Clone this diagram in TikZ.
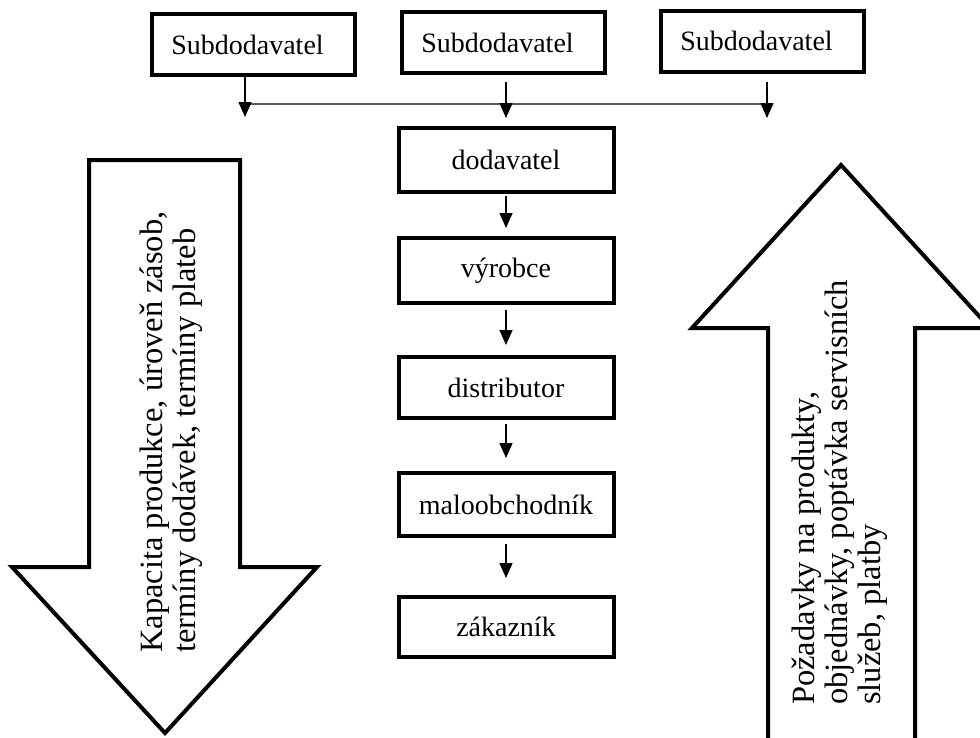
\documentclass[tikz,border=0pt]{standalone}
\usepackage{fontspec}
\setmainfont{Liberation Serif}
\usetikzlibrary{arrows.meta}
\begin{document}
\begin{tikzpicture}[x=1pt,y=-1pt,
  box/.style={draw, line width=4pt, minimum width=215pt, minimum height=63pt, inner sep=0pt, font=\fontsize{28}{32}\selectfont},
  topbox/.style={box, minimum width=203pt, minimum height=61pt},
  link/.style={line width=1.5pt, -{Triangle[length=15pt,width=13pt]}},
  hline/.style={line width=1.8pt, black!65},
  bigarrow/.style={line width=4pt, line join=miter},
  arrowtext/.style={rotate=90, anchor=west, inner sep=0pt, align=left, font=\fontsize{32.5}{33}\selectfont}]
\useasboundingbox (0,0) rectangle (980,737);
\clip (0,0) rectangle (980,737);

% top row
\node[topbox] (b1) at (253.5,44.5) {Subdodavatel\hspace*{12pt}};
\node[topbox] (b2) at (503.5,42.5) {Subdodavatel\hspace*{12pt}};
\node[topbox] (b3) at (762.5,41) {Subdodavatel\hspace*{12pt}};

\coordinate (t1) at (245,117);
\coordinate (t2) at (506,118);
\coordinate (t3) at (767,118);
\coordinate (h1) at (245,104);
\coordinate (h3) at (767,104);

\draw[hline] (h1) -- (h3);
\draw[link] (t1 |- b1.south) -- (t1);
\draw[link, shorten <=7pt] (t2 |- b2.south) -- (t2);
\draw[link, shorten <=8pt] (t3 |- b3.south) -- (t3);

% middle chain
\node[box, minimum height=64pt] (dod) at (506,160) {dodavatel};
\node[box, minimum height=65pt] (vyr) at (506,270.5) {výrobce};
\node[box, minimum height=61pt] (dis) at (506,387.5) {distributor};
\node[box, minimum height=63pt] (mal) at (506,504.5) {maloobchodník};
\node[box, minimum height=60pt] (zak) at (506,627) {zákazník};

\draw[link, shorten <=2pt, shorten >=8pt] (dod.south) -- (vyr.north);
\draw[link, shorten <=5pt, shorten >=10pt] (vyr.south) -- (dis.north);
\draw[link, shorten <=4pt, shorten >=13pt] (dis.south) -- (mal.north);
\draw[link, shorten <=6pt, shorten >=17pt] (mal.south) -- (zak.north);

% left big arrow (down)
\draw[bigarrow] (89,160) -- (240,160) -- (240,567) -- (317,567) -- (165,733) -- (12,567) -- (89,567) -- cycle;
\node[arrowtext] (ltext) at (171,653) {Kapacita produkce, úroveň zásob,\\termíny dodávek, termíny plateb};

% right big arrow (up)
\draw[bigarrow] (768,745) -- (768,328) -- (692,328) -- (841,165) -- (990,328) -- (915,328) -- (915,745);
\node[arrowtext] (rtext) at (840,705) {Požadavky na produkty,\\objednávky, poptávka servisních\\služeb, platby};
\end{tikzpicture}
\end{document}
